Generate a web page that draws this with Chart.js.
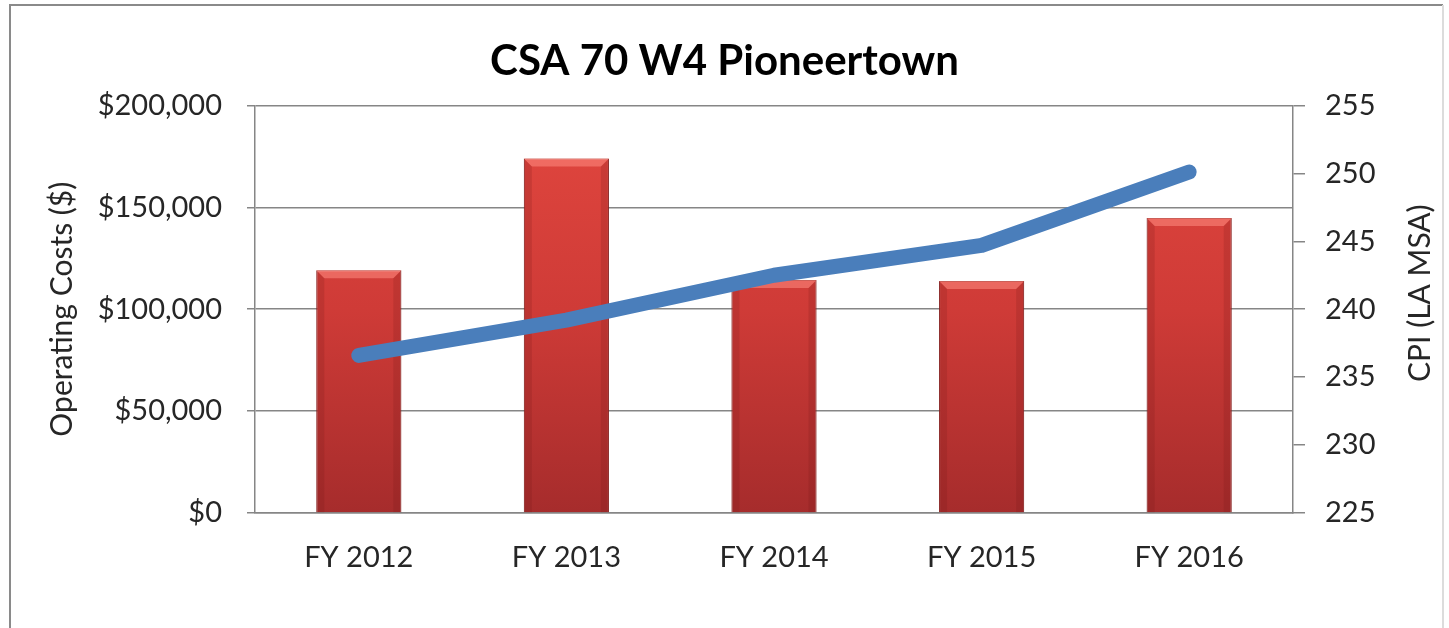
<!DOCTYPE html>
<html lang="en">
<head>
  <meta charset="UTF-8">
  <title>CSA 70 W4 Pioneertown</title>
  <style>
    body {
      margin: 0;
      background-color: #ffffff;
    }

    .chart-box {
      width: 1449px;
      height: 628px;
      position: relative;
    }
  </style>
</head>
<body>
  <div class="chart-box">
    <canvas id="costChart" width="1449" height="628"></canvas>
  </div>

  <script src="https://cdn.jsdelivr.net/npm/chart.js"></script>
  <script>
    // data
    const years = ['FY 2012', 'FY 2013', 'FY 2014', 'FY 2015', 'FY 2016'];
    const operatingCosts = [119100, 174000, 114300, 113800, 144800];
    const cpiValues = [236.6, 239.2, 242.5, 244.7, 250.1];

    const chartTitle = 'CSA 70 W4 Pioneertown';
    const leftTitle = 'Operating Costs ($)';
    const rightTitle = 'CPI (LA MSA)';

    const fontFamily = 'Lato, "Open Sans", sans-serif';
    const axisGray = '#868686';

    // white background + the thin outer frame
    const framePlugin = {
      id: 'frame',
      beforeDraw(chart) {
        const c = chart.ctx;
        c.save();
        c.fillStyle = '#ffffff';
        c.fillRect(0, 0, chart.width, chart.height);
        c.strokeStyle = '#8a8a8a';
        c.lineWidth = 2;
        c.beginPath();
        c.moveTo(10, chart.height);
        c.lineTo(10, 5);
        c.lineTo(1443, 5);
        c.stroke();
        c.strokeStyle = '#dcdcdc';
        c.beginPath();
        c.moveTo(1443, 5);
        c.lineTo(1443, chart.height);
        c.stroke();
        c.restore();
      }
    };

    // soft bevel on the bars (top highlight, darker sides), drawn from the bar elements
    const bevelPlugin = {
      id: 'bevel',
      afterDatasetDraw(chart, args) {
        const meta = args.meta;
        if (meta.type !== 'bar') return;
        const c = chart.ctx;
        const b = 8;
        c.save();
        meta.data.forEach(bar => {
          const left = bar.x - bar.width / 2;
          const right = bar.x + bar.width / 2;
          const top = bar.y;
          const bottom = bar.base;
          c.fillStyle = 'rgba(255, 140, 130, 0.55)';
          c.beginPath();
          c.moveTo(left, top);
          c.lineTo(right, top);
          c.lineTo(right - b, top + b);
          c.lineTo(left + b, top + b);
          c.closePath();
          c.fill();
          c.fillStyle = 'rgba(110, 20, 20, 0.18)';
          c.beginPath();
          c.moveTo(left, top);
          c.lineTo(left + b, top + b);
          c.lineTo(left + b, bottom);
          c.lineTo(left, bottom);
          c.closePath();
          c.fill();
          c.beginPath();
          c.moveTo(right, top);
          c.lineTo(right - b, top + b);
          c.lineTo(right - b, bottom);
          c.lineTo(right, bottom);
          c.closePath();
          c.fill();
        });
        c.restore();
      }
    };

    // right axis title reads bottom-to-top like Excel
    const rightTitlePlugin = {
      id: 'rightTitle',
      afterDraw(chart) {
        const c = chart.ctx;
        const area = chart.chartArea;
        c.save();
        c.translate(1420, (area.top + area.bottom) / 2 - 16);
        c.rotate(-Math.PI / 2);
        c.font = '30px ' + fontFamily;
        c.fillStyle = '#262626';
        c.textAlign = 'center';
        c.textBaseline = 'middle';
        c.fillText(rightTitle, 0, 0);
        c.restore();
      }
    };

    function barFill(context) {
      const chart = context.chart;
      const area = chart.chartArea;
      if (!area) return '#c0504d';
      const g = chart.ctx.createLinearGradient(0, area.top, 0, area.bottom);
      g.addColorStop(0, '#e2473f');
      g.addColorStop(0.5, '#cf3b37');
      g.addColorStop(1, '#a62c2c');
      return g;
    }

    const ctx = document.getElementById('costChart').getContext('2d');
    const costChart = new Chart(ctx, {
      data: {
        labels: years,
        datasets: [
          {
            type: 'line',
            label: 'CPI',
            data: cpiValues,
            yAxisID: 'y1',
            borderColor: '#4a7ebb',
            borderWidth: 15,
            borderCapStyle: 'round',
            borderJoinStyle: 'round',
            pointRadius: 0,
            tension: 0,
            order: 0
          },
          {
            type: 'bar',
            label: 'Operating Costs',
            data: operatingCosts,
            yAxisID: 'y',
            backgroundColor: barFill,
            borderColor: '#8f2826',
            borderWidth: 1,
            categoryPercentage: 1,
            barPercentage: 0.41,
            order: 1
          }
        ]
      },
      options: {
        responsive: false,
        animation: false,
        layout: { padding: 0 },
        plugins: {
          legend: { display: false },
          tooltip: { enabled: false },
          title: {
            display: true,
            text: chartTitle,
            color: '#000000',
            font: { family: fontFamily, size: 42, weight: 'bold', lineHeight: 1.2 },
            padding: { top: 36, bottom: 19 }
          }
        },
        scales: {
          x: {
            grid: { display: false, drawTicks: false },
            border: { display: true, color: axisGray, width: 1.5 },
            ticks: {
              color: '#262626',
              font: { family: fontFamily, size: 29 },
              padding: 27,
              maxRotation: 0
            },
            afterFit(scale) { scale.height = 115; }
          },
          y: {
            position: 'left',
            min: 0,
            max: 200000,
            grid: { color: axisGray, lineWidth: 1.5, tickLength: 8 },
            border: { display: true, color: axisGray, width: 1.5 },
            ticks: {
              stepSize: 50000,
              color: '#262626',
              font: { family: fontFamily, size: 29 },
              padding: 25,
              callback: v => '$' + v.toLocaleString('en-US')
            },
            title: {
              display: true,
              text: leftTitle,
              color: '#262626',
              font: { family: fontFamily, size: 30, lineHeight: 1.2 },
              padding: { top: 44, bottom: 0 }
            },
            afterFit(scale) { scale.width = 255; }
          },
          y1: {
            position: 'right',
            min: 225,
            max: 255,
            grid: { drawOnChartArea: false, color: axisGray, lineWidth: 1.5, tickLength: 12 },
            border: { display: true, color: axisGray, width: 1.5 },
            ticks: {
              stepSize: 5,
              color: '#262626',
              font: { family: fontFamily, size: 29 },
              padding: 20
            },
            afterFit(scale) { scale.width = 156; }
          }
        }
      },
      plugins: [framePlugin, bevelPlugin, rightTitlePlugin]
    });
  </script>
</body>
</html>
